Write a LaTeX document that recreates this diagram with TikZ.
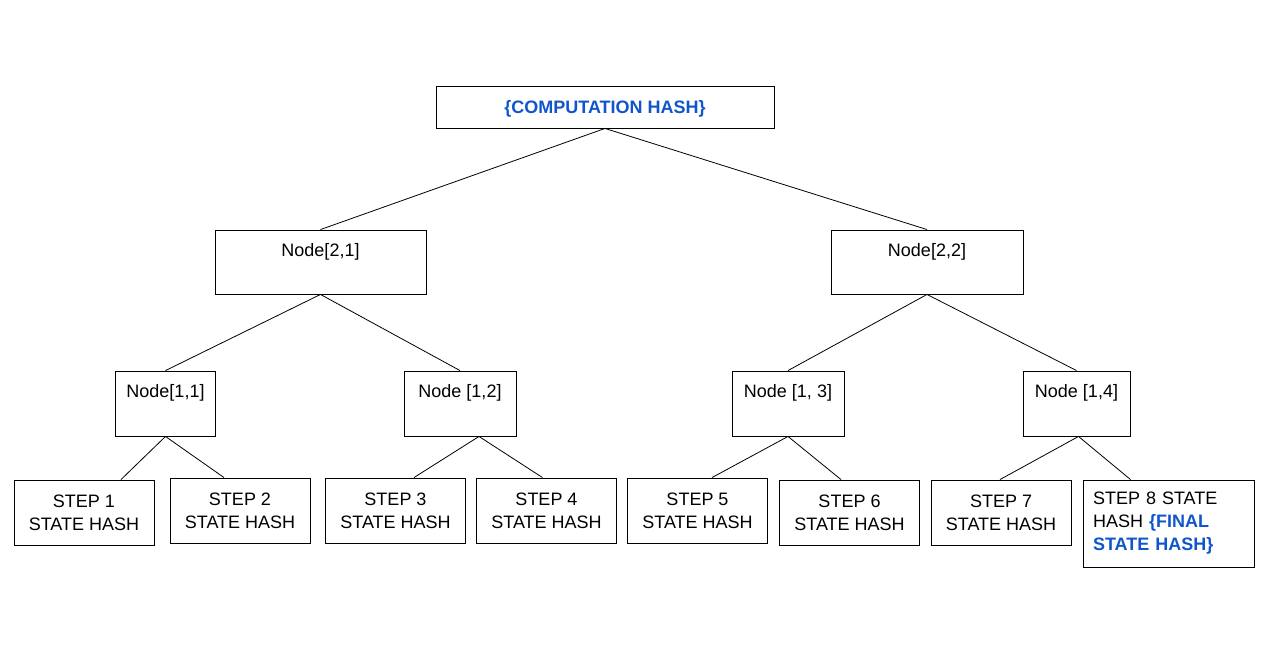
\documentclass[tikz,border=0pt]{standalone}
\usepackage{fontspec}
\setmainfont{Liberation Sans}
\definecolor{hashblue}{HTML}{1155CC}

\begin{document}
\begin{tikzpicture}[x=1pt,y=-1pt,
    box/.style={draw, line width=0.9pt, inner sep=0pt, font=\fontsize{18}{23}\selectfont},
    topbox/.style={box, text height=26pt, text depth=38pt},
    leafbox/.style={box, minimum width=140pt, minimum height=65pt, align=center},
    link/.style={line width=0.8pt}]
        \useasboundingbox (0,0) rectangle (1271,656);

        % root
        \node[box, minimum width=338pt, text height=27pt, text depth=15pt, text=hashblue,
            font=\fontsize{18}{23}\selectfont\bfseries] (root) at (605,107) {\{COMPUTATION HASH\}};

        % level 2
        \node[topbox, minimum width=211pt] (n21) at (320.5,262) {Node[2,1]};
        \node[topbox, minimum width=192pt] (n22) at (927,262) {Node[2,2]};

        % level 1
        \node[topbox, text depth=39pt, minimum width=100pt] (n11) at (165.5,403.5) {Node[1,1]};
        \node[topbox, text depth=39pt, minimum width=112pt] (n12) at (460,403.5) {Node [1,2]};
        \node[topbox, text depth=39pt, minimum width=112pt] (n13) at (788,403.5) {Node [1, 3]};
        \node[topbox, text depth=39pt, minimum width=107pt] (n14) at (1076.5,403.5) {Node [1,4]};

        % steps
        \node[leafbox] (s1) at (84,512.5) {STEP 1\\STATE HASH};
        \node[leafbox] (s2) at (240,510.5) {STEP 2\\STATE HASH};
        \node[leafbox] (s3) at (395.5,510.5) {STEP 3\\STATE HASH};
        \node[leafbox] (s4) at (546.5,510.5) {STEP 4\\STATE HASH};
        \node[leafbox] (s5) at (697.5,510.5) {STEP 5\\STATE HASH};
        \node[leafbox] (s6) at (849.5,512.5) {STEP 6\\STATE HASH};
        \node[leafbox] (s7) at (1001,512.5) {STEP 7\\STATE HASH};
        \node[box, minimum width=171pt, minimum height=87pt, inner xsep=10pt,
            text width=151pt, align=left] (s8) at (1168.5,523.5)
            {STEP 8 STATE\\HASH {\color{hashblue}\bfseries\{FINAL}\\{\color{hashblue}\bfseries STATE HASH\}}};

        \draw[link] (root.south) -- (n21.north);
        \draw[link] (root.south) -- (n22.north);
        \draw[link] (n21.south) -- (n11.north);
        \draw[link] (n21.south) -- (n12.north);
        \draw[link] (n22.south) -- (n13.north);
        \draw[link] (n22.south) -- (n14.north);

        \draw[link] (n11.south) -- ([xshift=37pt]s1.north);
        \draw[link] (n11.south) -- ([xshift=-16pt]s2.north);
        \draw[link] ([xshift=19pt]n12.south) -- ([xshift=18.5pt]s3.north);
        \draw[link] ([xshift=19pt]n12.south) -- ([xshift=-4pt]s4.north);
        \draw[link] (n13.south) -- ([xshift=14.5pt]s5.north);
        \draw[link] (n13.south) -- ([xshift=-8.5pt]s6.north);
        \draw[link] ([xshift=2pt]n14.south) -- ([xshift=-1pt]s7.north);
        \draw[link] ([xshift=2pt]n14.south) -- ([xshift=-38pt]s8.north);

    \end{tikzpicture}
\end{document}
